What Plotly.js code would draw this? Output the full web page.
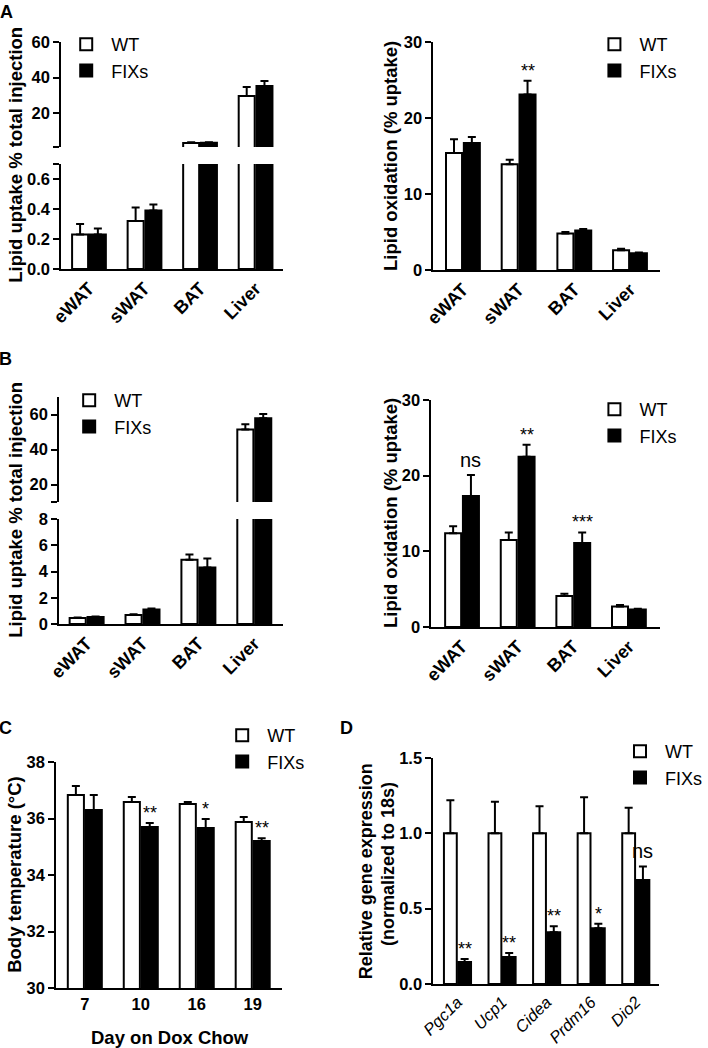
<!DOCTYPE html>
<html><head><meta charset="utf-8">
<script src="https://cdn.plot.ly/plotly-3.0.1.min.js"></script>
<style>html,body{margin:0;padding:0;background:#fff}#chart{width:708px;height:1048px}</style>
</head><body><div id="chart"></div>
<script>
// ---------------- data ----------------
var tissues = ['eWAT', 'sWAT', 'BAT', 'Liver'];
var groupNames = ['WT', 'FIXs'];

// A - lipid uptake (% total injection), broken axis
var upA_WT = [0.23, 0.32, 3.3, 29.7];
var upA_WT_sem = [0.07, 0.09, 0.3, 5.0];
var upA_FIX = [0.23, 0.39, 3.4, 35.3];
var upA_FIX_sem = [0.04, 0.04, 0.3, 2.8];

// A - lipid oxidation (% uptake)
var oxA_WT = [15.4, 13.9, 4.8, 2.6];
var oxA_WT_sem = [1.8, 0.6, 0.2, 0.2];
var oxA_FIX = [16.7, 23.1, 5.2, 2.2];
var oxA_FIX_sem = [0.8, 1.8, 0.2, 0.1];
var oxA_sig = ['', '**', '', ''];

// B - lipid uptake (% total injection), broken axis
var upB_WT = [0.45, 0.69, 4.9, 51.5];
var upB_WT_sem = [0.05, 0.06, 0.4, 3.0];
var upB_FIX = [0.53, 1.1, 4.3, 57.8];
var upB_FIX_sem = [0.05, 0.08, 0.7, 2.5];

// B - lipid oxidation (% uptake)
var oxB_WT = [12.4, 11.5, 4.1, 2.7];
var oxB_WT_sem = [0.9, 1.0, 0.3, 0.2];
var oxB_FIX = [17.3, 22.5, 11.1, 2.3];
var oxB_FIX_sem = [2.8, 1.6, 1.4, 0.1];
var oxB_sig = ['ns', '**', '***', ''];

// C - body temperature
var days = ['7', '10', '16', '19'];
var temp_WT = [36.83, 36.58, 36.51, 35.88];
var temp_WT_sem = [0.32, 0.18, 0.07, 0.17];
var temp_FIX = [36.3, 35.7, 35.66, 35.2];
var temp_FIX_sem = [0.53, 0.14, 0.32, 0.1];
var temp_sig = ['', '**', '*', '**'];

// D - relative gene expression
var genes = ['Pgc1a', 'Ucp1', 'Cidea', 'Prdm16', 'Dio2'];
var expr_WT = [1, 1, 1, 1, 1];
var expr_WT_sem = [0.22, 0.21, 0.18, 0.24, 0.17];
var expr_FIX = [0.146, 0.18, 0.344, 0.37, 0.69];
var expr_FIX_sem = [0.02, 0.025, 0.04, 0.03, 0.09];
var expr_sig = ['**', '**', '**', '*', 'ns'];

// axis segments for broken axes
var upA_lowerRange = [0, 0.7], upA_upperRange = [1, 60];
var upB_lowerRange = [0, 8], upB_upperRange = [10, 70];

// ---------------- helpers ----------------
var W = 708, H = 1048;
var F = 'Arial, "Liberation Sans", sans-serif';
function px(p) { return p / W; }
function py(p) { return 1 - p / H; }
var BARGAP = 0.36;
var FIXOFF = (1 - BARGAP) / 4;

function err(sem) {
  return { type: 'data', symmetric: false, array: sem, arrayminus: sem.map(function () { return 0; }),
           color: '#000', thickness: 2, width: 4 };
}
function bar(name, x, y, sem, xa, ya, legend, show) {
  var wt = name === groupNames[0];
  return {
    type: 'bar', name: name, x: x, y: y, xaxis: xa, yaxis: ya,
    marker: { color: wt ? '#ffffff' : '#000000', line: { color: '#000', width: 2 } },
    error_y: err(sem), legend: legend, showlegend: show, hoverinfo: 'skip'
  };
}
function above(vals, min) { return vals.map(function (v) { return v > min ? v : null; }); }

var traces = [];
// A left
traces.push(bar('WT', tissues, upA_WT, upA_WT_sem, 'x', 'y', 'legend', true));
traces.push(bar('FIXs', tissues, upA_FIX, upA_FIX_sem, 'x', 'y', 'legend', true));
traces.push(bar('WT', tissues, above(upA_WT, upA_upperRange[0]), upA_WT_sem, 'x', 'y2', 'legend', false));
traces.push(bar('FIXs', tissues, above(upA_FIX, upA_upperRange[0]), upA_FIX_sem, 'x', 'y2', 'legend', false));
// A right
traces.push(bar('WT', tissues, oxA_WT, oxA_WT_sem, 'x2', 'y3', 'legend2', true));
traces.push(bar('FIXs', tissues, oxA_FIX, oxA_FIX_sem, 'x2', 'y3', 'legend2', true));
// B left
traces.push(bar('WT', tissues, upB_WT, upB_WT_sem, 'x3', 'y4', 'legend3', true));
traces.push(bar('FIXs', tissues, upB_FIX, upB_FIX_sem, 'x3', 'y4', 'legend3', true));
traces.push(bar('WT', tissues, above(upB_WT, upB_upperRange[0]), upB_WT_sem, 'x3', 'y5', 'legend3', false));
traces.push(bar('FIXs', tissues, above(upB_FIX, upB_upperRange[0]), upB_FIX_sem, 'x3', 'y5', 'legend3', false));
// B right
traces.push(bar('WT', tissues, oxB_WT, oxB_WT_sem, 'x4', 'y6', 'legend4', true));
traces.push(bar('FIXs', tissues, oxB_FIX, oxB_FIX_sem, 'x4', 'y6', 'legend4', true));
// C
traces.push(bar('WT', days, temp_WT, temp_WT_sem, 'x5', 'y7', 'legend5', true));
traces.push(bar('FIXs', days, temp_FIX, temp_FIX_sem, 'x5', 'y7', 'legend5', true));
// D
traces.push(bar('WT', genes, expr_WT, expr_WT_sem, 'x6', 'y8', 'legend6', true));
traces.push(bar('FIXs', genes, expr_FIX, expr_FIX_sem, 'x6', 'y8', 'legend6', true));

// ---------------- axes ----------------
var tickFontY = { family: F, size: 16.5, color: '#000', weight: 'bold' };
var tickFontX = { family: F, size: 18, color: '#000', weight: 'bold' };
function yax(domainPx, range, anchor, tv, tt) {
  var a = { domain: [py(domainPx[0]), py(domainPx[1])], range: range, anchor: anchor,
    showline: true, linecolor: '#000', linewidth: 2, ticks: 'outside', ticklen: 6, tickwidth: 2,
    tickcolor: '#000', showgrid: false, zeroline: false, tickfont: tickFontY, fixedrange: true,
    tickvals: tv };
  if (tt) a.ticktext = tt;
  return a;
}
function xax(domainPx, range, anchor, angle, font) {
  return { domain: [px(domainPx[0]), px(domainPx[1])], range: range, anchor: anchor, type: 'category',
    showline: true, linecolor: '#000', linewidth: 2, ticks: '', showgrid: false, zeroline: false,
    tickangle: angle, tickfont: font || tickFontX, fixedrange: true };
}

function legendAt(xp, yp) {
  return { x: px(xp), y: py(yp), xanchor: 'left', yanchor: 'top', bgcolor: 'rgba(0,0,0,0)',
    font: { family: F, size: 18, color: '#000' }, traceorder: 'normal', itemclick: false,
    itemwidth: 40 };
}

function sigAnn(sig, vals, sem, xref, yref) {
  var out = [];
  sig.forEach(function (s, i) {
    if (!s) return;
    out.push({ x: i + FIXOFF, y: vals[i] + sem[i], xref: xref, yref: yref, text: s, showarrow: false,
      yanchor: 'bottom', yshift: s === 'ns' ? 2 : -2,
      font: { family: F, size: s === 'ns' ? 20 : 18, color: '#000' } });
  });
  return out;
}
function paperText(text, xp, yp, size, angle, bold) {
  return { x: px(xp), y: py(yp), xref: 'paper', yref: 'paper', text: text, showarrow: false,
    xanchor: 'center', yanchor: 'middle', textangle: angle || 0,
    font: { family: F, size: size, color: '#000', weight: bold ? 'bold' : 'normal' } };
}

var annotations = []
  .concat(sigAnn(oxA_sig, oxA_FIX, oxA_FIX_sem, 'x2', 'y3'))
  .concat(sigAnn(oxB_sig, oxB_FIX, oxB_FIX_sem, 'x4', 'y6'))
  .concat(sigAnn(temp_sig, temp_FIX, temp_FIX_sem, 'x5', 'y7'))
  .concat(sigAnn(expr_sig, expr_FIX, expr_FIX_sem, 'x6', 'y8'))
  .concat([
    paperText('A', 7, 12, 18, 0, true),
    paperText('B', 6, 359, 18, 0, true),
    paperText('C', 6, 728, 18, 0, true),
    paperText('D', 351, 728, 18, 0, true),
    paperText('Lipid uptake % total injection', 15, 155, 18.5, -90, true),
    paperText('Lipid oxidation (% uptake)', 396, 156, 18.5, -90, true),
    paperText('Lipid uptake % total injection', 15, 510, 18.5, -90, true),
    paperText('Lipid oxidation (% uptake)', 395, 513, 18.5, -90, true),
    paperText('Body temperature (°C)', 14, 874, 18.5, -90, true),
    paperText('Relative gene expression', 371, 871, 18, -90, true),
    paperText('(normalized to 18s)', 393, 864, 18, -90, true),
    paperText('Day on Dox Chow', 172, 1037, 18.5, 0, true)
  ]);

var layout = {
  width: W, height: H, margin: { l: 0, r: 0, t: 0, b: 0 },
  paper_bgcolor: '#fff', plot_bgcolor: 'rgba(0,0,0,0)',
  barmode: 'group', bargap: BARGAP, bargroupgap: 0.1,
  font: { family: F, color: '#000' },
  // A left
  xaxis: xax([62, 287], [-0.5, 3.5], 'y', -45),
  yaxis: yax([269, 164], upA_lowerRange, 'x', [0, 0.2, 0.4, 0.6, 0.7], ['0.0', '0.2', '0.4', '0.6', '']),
  yaxis2: yax([147, 42], upA_upperRange, 'x', [1, 20, 40, 60], ['', '20', '40', '60']),
  // A right
  xaxis2: xax([439, 668], [-0.53, 3.53], 'y3', -45),
  yaxis3: yax([270, 42], [0, 30], 'x2', [0, 10, 20, 30]),
  // B left
  xaxis3: xax([60, 287], [-0.49, 3.52], 'y4', -45),
  yaxis4: yax([624, 519], upB_lowerRange, 'x3', [0, 2, 4, 6, 8]),
  yaxis5: yax([502, 397], upB_upperRange, 'x3', [10, 20, 40, 60], ['', '20', '40', '60']),
  // B right
  xaxis4: xax([437, 668], [-0.55, 3.55], 'y6', -45),
  yaxis6: yax([627, 400], [0, 30], 'x4', [0, 10, 20, 30]),
  // C
  xaxis5: xax([57, 286], [-0.51, 3.53], 'y7', 0, { family: F, size: 16.5, color: '#000', weight: 'bold' }),
  yaxis7: yax([988, 762], [30, 38], 'x5', [30, 32, 34, 36, 38]),
  // D
  xaxis6: xax([439, 667], [-0.54, 4.51], 'y8', -45, { family: F, size: 16.5, color: '#000', style: 'italic' }),
  yaxis8: yax([984, 758], [0, 1.5], 'x6', [0, 0.5, 1, 1.5], ['0.0', '0.5', '1.0', '1.5']),
  legend: legendAt(62, 26),
  legend2: legendAt(597, 26),
  legend3: legendAt(65, 382),
  legend4: legendAt(597, 391),
  legend5: legendAt(220, 717),
  legend6: legendAt(623, 733),
  annotations: annotations
};

Plotly.newPlot('chart', traces, layout, { staticPlot: true, displayModeBar: false });
</script>
</body></html>
